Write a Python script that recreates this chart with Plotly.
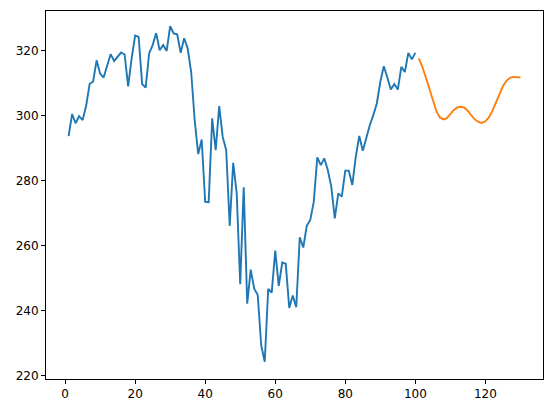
import plotly.graph_objects as go

hist_x = list(range(1, 101))
hist_y = [
    293.75, 300.5, 297.7, 299.9, 298.7, 303.0, 309.8, 310.6, 317.1, 313.0,
    311.8, 315.6, 319.0, 316.9, 318.2, 319.5, 318.9, 309.1, 317.7, 324.7,
    324.3, 309.8, 308.7, 319.2, 321.8, 325.5, 320.2, 321.8, 320.0, 327.6,
    325.4, 325.1, 319.4, 323.9, 320.8, 313.5, 298.7, 288.2, 292.7, 273.5,
    273.4, 299.2, 289.4, 303.0, 293.5, 289.4, 266.1, 285.5, 276.1, 248.1,
    278.0, 242.1, 252.6, 246.7, 244.8, 229.2, 224.2, 246.7, 245.5, 258.5,
    247.6, 254.8, 254.4, 240.8, 244.6, 241.0, 262.6, 259.4, 266.1, 267.9,
    273.5, 287.2, 284.8, 286.9, 283.3, 278.2, 268.4, 276.1, 275.1, 283.1,
    283.1, 278.7, 287.4, 293.8, 289.2, 293.4, 297.1, 300.2, 303.8, 310.5,
    315.3, 311.8, 308.1, 309.8, 308.1, 315.1, 313.5, 319.4, 317.4, 319.4,
]

fc_x = list(range(101, 131))
fc_y = [
    317.7, 315.1, 311.8, 308.1, 304.6, 301.5, 299.5, 298.9, 299.3, 300.5,
    301.8, 302.6, 302.8, 302.5, 301.5, 300.1, 298.9, 298.1, 297.8, 298.3,
    299.5, 301.5, 304.2, 306.9, 309.1, 310.8, 311.7, 312.0, 312.0, 311.8,
]

x_ticks = [0, 20, 40, 60, 80, 100, 120]
y_ticks = [220, 240, 260, 280, 300, 320]

fig = go.Figure()
fig.add_trace(go.Scatter(x=hist_x, y=hist_y, mode="lines",
                         line=dict(color="#1f77b4", width=1.9), showlegend=False))
fig.add_trace(go.Scatter(x=fc_x, y=fc_y, mode="lines",
                         line=dict(color="#ff7f0e", width=1.9), showlegend=False))

axis_common = dict(
    showgrid=False, zeroline=False, showline=True, linecolor="black", linewidth=1,
    mirror=True, ticks="outside", ticklen=4, tickwidth=1, tickcolor="black",
    tickfont=dict(family="DejaVu Sans", size=12, color="black"),
)
fig.update_xaxes(range=[-5.45, 136.45], tickvals=x_ticks, **axis_common)
fig.update_yaxes(range=[218.9, 332.3], tickvals=y_ticks, **axis_common)

# page body has an 8px default margin; size/margins compensate for it
fig.update_layout(
    width=544, height=405,
    margin=dict(l=38, r=9.4, t=2.7, b=33.8),
    paper_bgcolor="white", plot_bgcolor="white",
)
fig.write_html("out.html")
